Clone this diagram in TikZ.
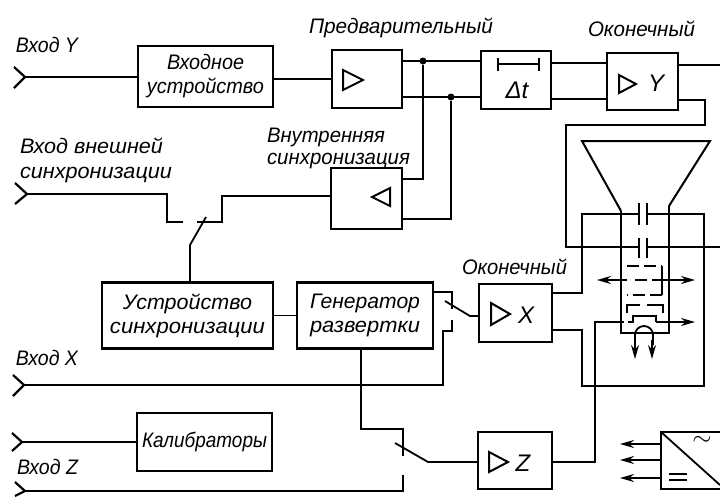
\documentclass[tikz,border=0pt]{standalone}
\usepackage{graphicx}
\usepackage{fontspec}
\setmainfont{Liberation Sans}
\usetikzlibrary{arrows.meta,calc}
\newcommand{\fitw}[2]{\resizebox{#1pt}{\height}{#2}}
\tikzset{
  wire/.style={line width=1.8pt,line join=miter,line cap=butt},
  fork/.style={line width=2.2pt,line join=miter},
  blk/.style={draw,line width=2.2pt,inner sep=0pt,outer sep=0pt,align=center,font=\fontsize{21}{24}\selectfont\itshape},
  lab/.style={inner sep=0pt,outer sep=0pt,anchor=base west,font=\fontsize{21}{23}\selectfont\itshape},
  big/.style={inner sep=0pt,outer sep=0pt,anchor=center,font=\fontsize{24}{24}\selectfont\itshape},
  tri/.style={line width=2pt,line join=miter},
  dotj/.style={circle,fill=black,inner sep=0pt,minimum size=7pt},
  tipL/.style={-{Stealth[length=14pt,width=8pt]}},
  dash1/.style={line width=1.7pt,dash pattern=on 12pt off 5pt},
}
\begin{document}
\begin{tikzpicture}[x=1pt,y=-1pt]
\useasboundingbox (0,0) rectangle (720,496);
% ---- blocks
\node[blk,minimum width=135pt,minimum height=61pt] (inp) at (205.5,76.5) {\fitw{77}{Входное}\\\fitw{117}{устройство}};
\node[blk,minimum width=70pt,minimum height=58pt] (pre) at (367,79) {};
\node[blk,minimum width=70pt,minimum height=58pt] (del) at (516,80) {};
\node[blk,minimum width=71pt,minimum height=57pt] (endy) at (642.5,81.5) {};
\node[blk,minimum width=71pt,minimum height=61pt] (ints) at (366.5,198.5) {};
\node[blk,minimum width=171pt,minimum height=66pt] (syn) at (187.5,315.5) {\fitw{129}{Устройство}\\\fitw{155}{синхронизации}};
\node[blk,minimum width=136pt,minimum height=66pt] (gen) at (365,315.5) {\fitw{110}{Генератор}\\\fitw{110}{развертки}};
\node[blk,minimum width=73pt,minimum height=58pt] (endx) at (515.5,313) {};
\node[blk,minimum width=74pt,minimum height=57pt] (endz) at (515,460.5) {};
\node[blk,minimum width=135pt,minimum height=58pt] (cal) at (204.5,442) {\fitw{125}{Калибраторы}};
% ---- labels
\node[lab] (tY) at (16,52) {\fitw{62}{Вход Y}};
\node[lab] (tPre) at (309,33) {\fitw{184}{Предварительный}};
\node[lab] (tEndY) at (588,36) {\fitw{107}{Оконечный}};
\node[lab] (tInt1) at (267,142) {\fitw{118}{Внутренняя}};
\node[lab] (tInt2) at (267,164) {\fitw{143}{синхронизация}};
\node[lab] (tExt1) at (20,153) {\fitw{143}{Вход внешней}};
\node[lab] (tExt2) at (20,178) {\fitw{152}{синхронизации}};
\node[lab] (tEndX) at (462,274) {\fitw{105}{Оконечный}};
\node[lab] (tX) at (16,365) {\fitw{62}{Вход X}};
\node[lab] (tZ) at (17,474) {\fitw{61}{Вход Z}};
\node[big] (dt) at (517,90) {Δt};
\node[big] (ly) at (656,83) {Y};
\node[big] (lx) at (526,315) {X};
\node[big] (lz) at (523,463) {Z};
\node[font=\fontsize{24}{24}\selectfont,inner sep=0pt] (tilde) at (702,441) {$\sim$};
% ---- amplifier triangles
\draw[tri] (343,70) -- (363,80) -- (343,90) -- cycle;
\draw[tri] (390,188) -- (372,197) -- (390,206) -- cycle;
\draw[tri] (619,75) -- (636,84) -- (619,93) -- cycle;
\draw[tri] (491,303) -- (510,314) -- (491,325) -- cycle;
\draw[tri] (489,452) -- (508,462) -- (489,472) -- cycle;
\draw[tri] (498,64) -- (539,64) (498,58) -- (498,71) (539,58) -- (539,71);
% ---- input forks
\coordinate (fY) at (25,77);
\coordinate (fE) at (27,194);
\coordinate (fX) at (24,385);
\coordinate (fC) at (22,442);
\coordinate (fZ) at (25,491);
\draw[fork] (14,67) -- (fY) -- (14,88);
\draw[fork] (15,183) -- (fE) -- (15,204);
\draw[fork] (13,375) -- (fX) -- (13,396);
\draw[fork] (12,433) -- (fC) -- (12,451);
\draw[fork] (15,482) -- (fZ) -- (15,496);
% ---- Y channel
\coordinate (j1) at (423,61);
\coordinate (j2) at (451,97);
\draw[wire] (fY) -- (inp.west |- fY);
\draw[wire] (inp.east |- pre.west) -- (pre.west);
\draw[wire] (pre.east |- j1) -- (j1) -- (del.west |- j1);
\draw[wire] (pre.east |- j2) -- (j2) -- (del.west |- j2);
\node[dotj] (d1) at (j1) {};
\node[dotj] (d2) at (j2) {};
\draw[wire] (ints.east |- 0,179) -- (423,179) -- (d1);
\draw[wire] (ints.east |- 0,219) -- (451,219) -- (d2);
\draw[wire] (del.east |- 0,63) -- (endy.west |- 0,63);
\draw[wire] (del.east |- 0,99) -- (endy.west |- 0,99);
% ---- sync switch
\coordinate (blade) at (190,245);
\draw[wire] (fE) -- (167,194) -- (167,222) -- (183,222);
\draw[wire] (197,222) -- (222,222) -- (222,196) -- (ints.west |- 222,196);
\draw[wire] (syn.north -| blade) -- (blade) -- (206,217);
\draw[wire] (syn.east) -- (gen.west);
% ---- X channel
\coordinate (bx) at (445,301);
\draw[wire] (gen.east |- 0,292) -- (452,292) -- (452,309);
\draw[wire] (fX) -- (443,385) -- (443,331) -- (452,331) -- (452,320);
\draw[wire] (bx) -- (470,316) -- (endx.west |- 470,316);
% ---- Z channel
\draw[wire] (361,350) -- (361,429) -- (403,429) -- (403,456);
\draw[wire] (fZ) -- (403,491) -- (403,475);
\draw[wire] (395,443) -- (428,462) -- (endz.west |- 428,462);
\draw[wire] (cal.west) -- (fC);
% ---- tube
\coordinate (tl) at (621,211);
\coordinate (tr) at (669,206);
\draw[tri] (tl) -- (582,141) -- (710,141) -- (tr);
\draw[wire] (tl) -- (621,333) -- (669,333) -- (tr);
\draw[wire] (639,203) -- (639,225) (647,203) -- (647,225);
\draw[wire] (639,238) -- (639,258) (647,238) -- (647,258);
% plate leads
\draw[wire] (endy.east |- 0,65) -- (720,65);
\draw[wire] (endy.east |- 0,100) -- (705,100) -- (705,125) -- (566,125) -- (566,247) -- (639,247);
\draw[wire] (647,247) -- (720,247);
\draw[wire] (endx.east |- 0,293) -- (582,293) -- (582,214) -- (639,214);
\draw[wire] (647,214) -- (704,214) -- (704,386) -- (582,386) -- (582,330) -- (endx.east |- 0,330);
% electrode structure
\draw[dash1] (627,266) -- (662,266);
\draw[wire] (662,266) -- (662,295);
\draw[dash1] (662,295) -- (627,295);
\draw[wire,tipL] (627,280) -- (597,280);
\draw[wire] (635,280) -- (647,280);
\draw[wire,tipL] (652,280) -- (695,280);
\draw[wire] (627,313) -- (627,305) -- (640,305) (647,305) -- (663,305) -- (663,313);
\draw[wire] (endz.east |- 0,462) -- (595,462) -- (595,322) -- (624,322);
\draw[wire] (628,322) -- (633,322) -- (633,316) -- (656,316) -- (656,322);
\draw[wire,tipL] (656,322) -- (695,322);
\draw[wire] (635,345) -- (635,335) arc[start angle=180,end angle=0,radius=9pt] -- (653,345);
\draw[wire,tipL] (635,340) -- (635,359);
\draw[wire,tipL] (652,340) -- (652,359);
% ---- power supply
\node[draw,line width=2.2pt,minimum width=70pt,minimum height=57pt,inner sep=0pt,outer sep=0pt] (psu) at (696,460.5) {};
\draw[wire] (psu.north west) -- (720,485);
\draw[wire] (669,474) -- (687,474) (669,480) -- (687,480);
\draw[wire,tipL] (psu.west |- 0,444) -- (620,444);
\draw[wire,tipL] (psu.west |- 0,460) -- (620,460);
\draw[wire,tipL] (psu.west |- 0,478) -- (620,478);
\end{tikzpicture}
\end{document}
